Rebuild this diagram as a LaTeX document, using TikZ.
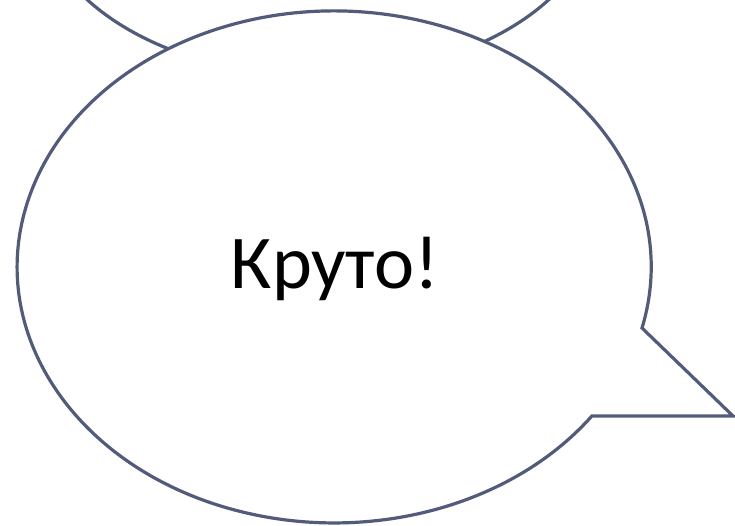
\documentclass[tikz,border=0pt]{standalone}
\usepackage{fontspec}
\setmainfont{Carlito}
\definecolor{bubbleline}{RGB}{83,91,122}
\begin{document}
\begin{tikzpicture}[x=1pt, y=-1pt,
    bubble/.style={draw=bubbleline, line width=3.2pt, fill=white, line join=miter},
    say/.style={font=\fontsize{76}{82}\selectfont, text=black, inner sep=0pt}
]
    \useasboundingbox (0,0) rectangle (735,526);

    % Bolha de trás, quase toda fora da página
    \draw[bubble] (318,-100) ellipse[x radius=280, y radius=176];

    % Bolha da frente com a ponta
    \draw[bubble] (642,328) arc[start angle=13.8, end angle=-324.4, x radius=317, y radius=256]
        -- (733,416) -- cycle;

    % Texto
    \node[say, anchor=base] (cool) at (335,288) {Круто!};

\end{tikzpicture}
\end{document}
